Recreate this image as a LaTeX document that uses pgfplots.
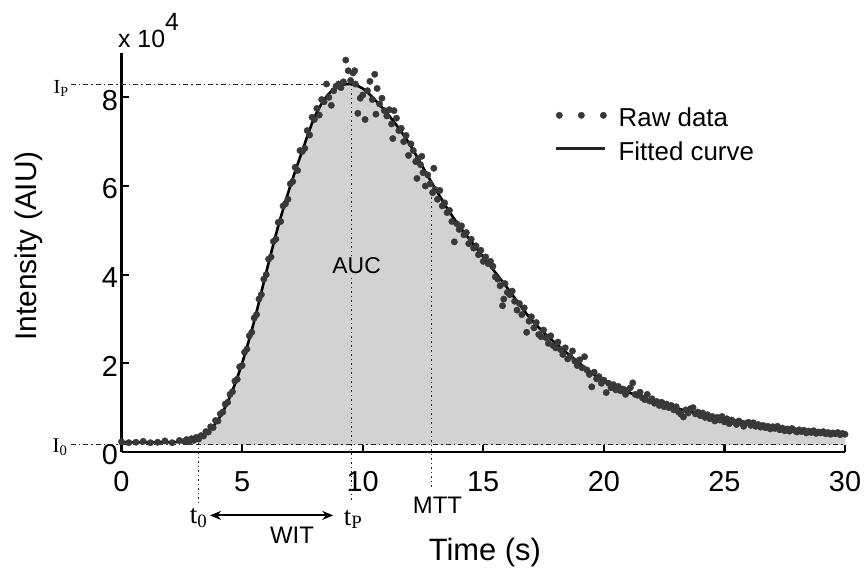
\documentclass[border=0pt]{standalone}
\usepackage{pgfplots}
\usepackage{pgfplotstable}
\pgfplotsset{compat=1.18}
\usepgfplotslibrary{fillbetween}
\usetikzlibrary{arrows.meta}
\usepackage{fontspec}
\setmainfont{Liberation Sans}
\newfontfamily\seriffam{Liberation Serif}
\newcommand\fs[1]{\fontsize{#1}{1.2\dimexpr#1pt\relax}\selectfont}

\pgfplotstableread{
t v
0 0.22
1 0.22
2 0.22
2.5 0.23
3 0.27
3.5 0.42
4 0.72
4.5 1.25
5 2.0
5.5 2.95
6 4.05
6.5 5.1
7 6.0
7.5 6.8
8 7.55
8.5 8.02
9 8.25
9.5 8.3
10 8.2
10.5 7.95
11 7.65
11.5 7.3
12 6.9
12.5 6.42
13 5.95
13.5 5.5
14 5.1
14.5 4.75
15 4.4
15.5 4.05
16 3.7
16.5 3.33
17 2.98
17.5 2.7
18 2.45
18.5 2.22
19 2.0
19.5 1.78
20 1.6
20.5 1.46
21 1.35
21.5 1.25
22 1.16
22.5 1.07
23 0.99
23.5 0.92
24 0.85
24.5 0.79
25 0.73
25.5 0.68
26 0.63
26.5 0.59
27 0.55
27.5 0.52
28 0.49
28.5 0.46
29 0.44
29.5 0.42
30 0.40
}\curvedata

\pgfplotstableread{
t v
3.2 0.32
3.5 0.42
4 0.72
4.5 1.25
5 2.0
5.5 2.95
6 4.05
6.5 5.1
7 6.0
7.5 6.8
8 7.55
8.5 8.02
9 8.25
9.5 8.3
10 8.2
10.5 7.95
11 7.65
11.5 7.3
12 6.9
12.5 6.42
13 5.95
13.5 5.5
14 5.1
14.5 4.75
15 4.4
15.5 4.05
16 3.7
16.5 3.33
17 2.98
17.5 2.7
18 2.45
18.5 2.22
19 2.0
19.5 1.78
20 1.6
20.5 1.46
21 1.35
21.5 1.25
22 1.16
22.5 1.07
23 0.99
23.5 0.92
24 0.85
24.5 0.79
25 0.73
25.5 0.68
26 0.63
26.5 0.59
27 0.55
27.5 0.52
28 0.49
28.5 0.46
29 0.44
29.5 0.42
30 0.40
}\fillcurve

\pgfplotstableread{
t v
0 0.23
0.3 0.21
0.6 0.22
0.9 0.24
1.2 0.21
1.5 0.22
1.8 0.25
2.1 0.21
2.4 0.26
2.6 0.24
2.7 0.28
2.8 0.23
2.9 0.30
3.0 0.26
3.1 0.33
3.2 0.29
3.3 0.37
3.4 0.36
3.5 0.46
3.6 0.45
3.7 0.57
3.8 0.55
3.9 0.71
4.0 0.70
4.1 0.86
4.2 0.90
4.3 1.08
4.4 1.12
4.5 1.30
4.6 1.36
4.7 1.60
4.8 1.64
4.9 1.92
5.0 1.95
5.1 2.25
5.2 2.32
5.3 2.62
5.4 2.70
5.5 3.02
5.6 3.10
5.7 3.45
5.8 3.55
5.9 3.90
6.0 4.00
6.1 4.35
6.2 4.40
6.3 4.75
6.4 4.80
6.5 5.18
6.6 5.20
6.7 5.55
6.8 5.60
6.9 5.70
7.0 6.05
7.1 6.10
7.2 6.42
7.3 6.35
7.4 6.80
7.5 6.78
7.6 6.85
7.7 7.25
7.8 7.15
7.9 7.55
8.0 7.50
8.1 7.75
8.2 7.60
8.3 7.95
8.4 7.90
8.5 8.30
8.6 8.00
8.7 7.82
8.8 8.15
8.9 8.25
9.0 8.30
9.1 8.22
9.2 8.35
9.3 8.84
9.4 8.60
9.5 8.38
9.6 8.55
9.67 8.60
9.7 8.30
9.8 7.64
9.9 7.98
10.0 8.05
10.1 7.50
10.2 8.15
10.3 8.36
10.4 7.95
10.5 8.52
10.55 7.62
10.6 8.20
10.7 7.85
10.8 7.98
10.9 7.70
11.0 7.58
11.1 7.72
11.2 7.40
11.25 7.07
11.3 7.70
11.4 7.53
11.5 7.25
11.6 7.30
11.7 7.00
11.8 7.14
11.9 6.69
12.0 6.95
12.1 6.80
12.2 6.55
12.25 6.17
12.3 6.62
12.4 6.48
12.45 6.67
12.5 6.30
12.6 6.00
12.7 6.25
12.8 6.05
12.9 5.85
12.95 6.40
13.0 5.92
13.1 5.70
13.2 5.90
13.3 5.55
13.4 5.62
13.5 5.40
13.6 5.45
13.7 5.20
13.8 4.74
13.9 5.15
14.0 5.02
14.1 5.10
14.2 4.90
14.3 4.95
14.4 4.70
14.5 4.80
14.6 4.60
14.7 4.65
14.8 4.45
14.9 4.55
15.0 4.30
15.1 4.40
15.2 4.25
15.3 4.30
15.4 4.19
15.5 3.95
15.6 3.90
15.7 3.75
15.8 3.30
15.85 3.45
15.9 3.80
16.0 3.60
16.1 3.55
16.2 3.63
16.3 3.40
16.4 3.20
16.5 3.35
16.6 3.10
16.7 3.25
16.8 2.70
16.9 2.95
17.0 3.05
17.1 2.80
17.2 2.92
17.3 2.65
17.4 2.60
17.5 2.75
17.6 2.58
17.7 2.45
17.8 2.62
17.9 2.40
18.0 2.35
18.1 2.48
18.2 2.31
18.3 2.20
18.4 2.35
18.5 2.10
18.6 2.15
18.7 2.28
18.8 2.05
18.9 1.95
19.0 2.08
19.1 1.90
19.2 2.15
19.3 1.85
19.4 1.75
19.5 1.47
19.6 1.80
19.7 1.65
19.8 1.70
19.9 1.55
20.0 1.62
20.1 1.34
20.2 1.55
20.3 1.45
20.4 1.52
20.5 1.40
20.6 1.48
20.7 1.38
20.8 1.42
20.9 1.30
21.0 1.40
21.1 1.45
21.2 1.56
21.3 1.30
21.4 1.28
21.5 1.35
21.6 1.22
21.7 1.18
21.8 1.30
21.9 1.15
22.0 1.20
22.1 1.10
22.2 1.14
22.3 1.05
22.4 1.12
22.5 1.02
22.6 1.08
22.7 1.00
22.8 1.05
22.9 0.95
23.0 1.02
23.1 0.90
23.2 0.85
23.3 0.79
23.4 0.95
23.5 0.88
23.6 0.98
23.7 1.00
23.8 0.86
23.9 0.90
24.0 0.82
24.1 0.88
24.2 0.78
24.3 0.84
24.4 0.75
24.5 0.80
24.6 0.70
24.7 0.78
24.8 0.72
24.9 0.80
25.0 0.68
25.1 0.75
25.2 0.64
25.3 0.72
25.4 0.68
25.5 0.62
25.6 0.70
25.7 0.66
25.8 0.58
25.9 0.65
26.0 0.67
26.1 0.60
26.2 0.66
26.3 0.58
26.4 0.62
26.5 0.56
26.6 0.60
26.7 0.55
26.8 0.58
26.9 0.52
27.0 0.57
27.1 0.53
27.2 0.58
27.3 0.50
27.4 0.54
27.5 0.48
27.6 0.52
27.7 0.47
27.8 0.53
27.9 0.49
28.0 0.45
28.1 0.50
28.2 0.46
28.3 0.49
28.4 0.43
28.5 0.47
28.6 0.44
28.7 0.48
28.8 0.42
28.9 0.45
29.0 0.43
29.1 0.46
29.2 0.41
29.3 0.44
29.4 0.40
29.5 0.43
29.6 0.41
29.7 0.44
29.8 0.39
29.9 0.42
30.0 0.40
}\rawdata

\begin{document}
\begin{tikzpicture}
\begin{axis}[
  at={(0,0)}, anchor=south west,
  scale only axis, width=723.5bp, height=399bp,
  xmin=0, xmax=30, ymin=0, ymax=9,
  axis x line=bottom, axis y line=left,
  axis line style={-, line width=2.6bp, black},
  xtick={0,5,...,30}, ytick={0,2,4,6,8},
  tick align=inside, major tick length=7bp,
  tick style={line width=2.2bp, black},
  /pgf/number format/assume math mode=true,
  ticklabel style={font=\fs{29}},
  xticklabel style={yshift=-16bp},
  yticklabel style={yshift=-3bp},
  clip=false,
  legend cell align=left,
  legend style={draw=none, fill=none, font=\fs{26},
    at={(axis cs:17.85,7.85)}, anchor=north west, row sep=9bp},
]
\addplot[name path=curvefill, draw=none, smooth, forget plot] table {\fillcurve};
\addplot[name path=base, draw=none, forget plot] coordinates {(3.2,0.16) (30,0.16)};
\addplot[fill=gray!35, draw=none, forget plot] fill between[of=curvefill and base];

% guide lines
\addplot[gray!30!black, line width=0.9bp, dash pattern=on 5bp off 3bp on 1.5bp off 3bp, forget plot] coordinates {(-2.1,8.3) (9.0,8.3)};
\addplot[gray!30!black, line width=0.9bp, dash pattern=on 5bp off 3bp on 1.5bp off 3bp, forget plot] coordinates {(-2.1,0.16) (30,0.16)};
\addplot[gray!30!black, line width=0.9bp, dash pattern=on 1.5bp off 3bp, forget plot] coordinates {(3.2,0.3) (3.2,-1.15)};
\addplot[gray!30!black, line width=0.9bp, dash pattern=on 1.5bp off 3bp, forget plot] coordinates {(9.55,8.3) (9.55,-1.1)};
\addplot[gray!30!black, line width=0.9bp, dash pattern=on 1.5bp off 3bp, forget plot] coordinates {(12.87,5.85) (12.87,-0.8)};

\addplot[only marks, mark=*, mark size=3.2bp, color=black!78,
  legend image code/.code={\fill[black!78] (3bp,0.3em) circle (3.2bp); \fill[black!78] (25bp,0.3em) circle (3.2bp); \fill[black!78] (47bp,0.3em) circle (3.2bp); \path (59bp,0.3em);}]
  table {\rawdata};
\addlegendentry{Raw data}
\addplot[black, line width=2.6bp, smooth,
  legend image code/.code={\draw[black!85, line width=2.4bp] (0bp,0.3em) -- (49bp,0.3em); \path (59bp,0.3em);}]
  table {\curvedata};
\addlegendentry{Fitted curve}

\node[fill=gray!35, inner sep=1.5bp, font=\fs{23}] at (axis cs:9.75,4.2) {AUC};
\node[anchor=east, font=\seriffam\fs{20}] at (axis cs:-2.05,8.2) {I\textsubscript{P}};
\node[anchor=east, font=\seriffam\fs{21}] at (axis cs:-2.1,0.1) {I\textsubscript{0}};
\node[font=\seriffam\fs{27}] at (axis cs:3.2,-1.5) {t\textsubscript{0}};
\node[font=\seriffam\fs{27}] at (axis cs:9.6,-1.52) {t\textsubscript{P}};
\draw[{Stealth[length=11bp,width=9bp]}-{Stealth[length=11bp,width=9bp]}, line width=2bp] (axis cs:3.67,-1.43) -- (axis cs:8.78,-1.43);
\node[font=\fs{24}] at (axis cs:7.07,-1.88) {WIT};
\node[font=\fs{24}] at (axis cs:13.1,-1.2) {MTT};
\node[font=\fs{31}] at (axis cs:15.07,-2.27) {Time (s)};
\node[font=\fs{30}, rotate=90] at (axis cs:-3.85,4.65) {Intensity (AIU)};
\node[font=\fs{25}, anchor=base west, inner sep=0pt] at (axis cs:-0.15,9.12) {x 10\raisebox{0.68em}{4}};
\end{axis}
\pgfresetboundingbox
\useasboundingbox (-121.5bp,-121bp) rectangle (745.5bp,452bp);
\end{tikzpicture}
\end{document}
